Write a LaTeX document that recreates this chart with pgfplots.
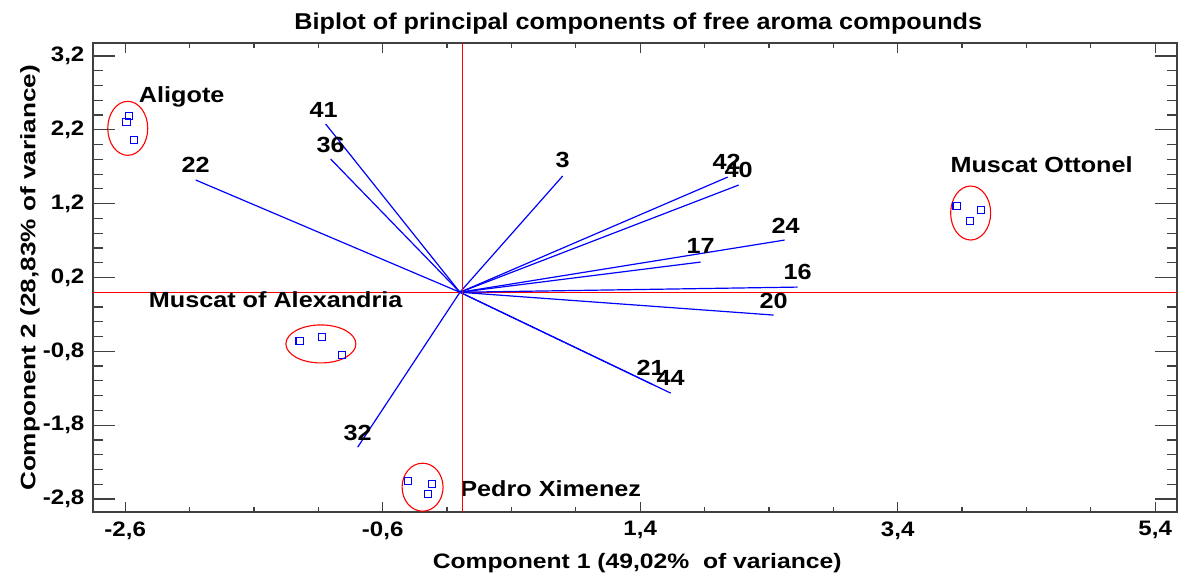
\documentclass[border=0pt]{standalone}
\usepackage{fontspec}
\setmainfont{Liberation Sans}
\usepackage{pgfplots}
\pgfplotsset{compat=1.18}
\definecolor{axgray}{RGB}{64,64,64}
\definecolor{refred}{RGB}{255,0,0}
\begin{document}
\begin{tikzpicture}[x=1bp,y=1bp]
\begin{axis}[
  at={(0,0)}, anchor=south west,
  scale only axis, width=1084bp, height=469bp,
  xmin=-2.85, xmax=5.57, ymin=-2.976, ymax=3.376,
  xtick={-2.6,-0.6,1.4,3.4,5.4},
  xticklabels={{-2,6},{-0,6},{1,4},{3,4},{5,4}},
  minor x tick num=3,
  ytick={-2.6,-2.4,-2.2,-2.0,-1.6,-1.4,-1.2,-1.0,-0.6,-0.4,-0.2,0.0,0.4,0.6,0.8,1.0,1.4,1.6,1.8,2.0,2.4,2.6,2.8,3.0},
  yticklabels={\empty},
  extra y ticks={-2.8,-1.8,-0.8,0.2,1.2,2.2,3.2},
  extra y tick labels={{-2,8},{-1,8},{-0,8},{0,2},{1,2},{2,2},{3,2}},
  extra y tick style={major tick length=22bp},
  tick align=inside,
  major tick length=10bp, minor tick length=5bp,
  tick style={axgray, line width=1.2bp},
  axis line style={axgray, line width=1.5bp},
  ticklabel style={font=\fontsize{21}{25}\selectfont\bfseries, xscale=1.15},
  xticklabel style={yshift=-6bp},
  yticklabel style={xshift=-4bp},
  title={Biplot of principal components of free aroma compounds},
  title style={at={(axis description cs:0.503,1.028)}, anchor=center, yshift=0pt, font=\fontsize{23}{27}\selectfont\bfseries, xscale=1.1},
  xlabel={Component 1 (49,02\%~ of variance)},
  xlabel style={at={(axis description cs:0.502,-0.1087)}, anchor=center, font=\fontsize{21}{25}\selectfont\bfseries, xscale=1.18},
  ylabel={Component 2 (28,83\% of variance)},
  ylabel style={at={(axis description cs:-0.0581,0.499)}, anchor=center, font=\fontsize{21}{25}\selectfont\bfseries, xscale=1.25},
]
% reference line (horizontal)
\addplot[refred, line width=1.3bp, forget plot] coordinates {(-2.85,0) (5.57,0)};
% loading vectors
\addplot[blue, line width=1.2bp] coordinates {(0,0) (-2.052,1.520)};
\addplot[blue, line width=1.2bp] coordinates {(0,0) (-1.043,2.279)};
\addplot[blue, line width=1.2bp] coordinates {(0,0) (-1.004,1.804)};
\addplot[blue, line width=1.2bp] coordinates {(0,0) (0.798,1.574)};
\addplot[blue, line width=1.2bp] coordinates {(0,0) (2.080,1.560)};
\addplot[blue, line width=1.2bp] coordinates {(0,0) (2.165,1.452)};
\addplot[blue, line width=1.2bp] coordinates {(0,0) (2.522,0.707)};
\addplot[blue, line width=1.2bp] coordinates {(0,0) (1.870,0.409)};
\addplot[blue, line width=1.2bp] coordinates {(0,0) (2.623,0.070)};
\addplot[blue, line width=1.2bp] coordinates {(0,0) (2.437,-0.309)};
\addplot[blue, line width=1.2bp] coordinates {(0,0) (1.637,-1.366)};
\addplot[blue, line width=1.2bp] coordinates {(0,0) (1.500,-1.252)};
\addplot[blue, line width=1.2bp] coordinates {(0,0) (-0.794,-2.098)};
% observations
\addplot[only marks, mark=square, blue, mark size=3.6bp, line width=1.1bp] coordinates {
 (-2.573,2.39) (-2.59,2.31) (-2.53,2.06)
 (-1.245,-0.66) (-1.074,-0.61) (-0.918,-0.85)
 (3.858,1.167) (4.045,1.113) (3.96,0.964)
 (-0.406,-2.559) (-0.219,-2.60) (-0.25,-2.735)};
% ellipses
\draw[refred, line width=1.1bp] (axis cs:-2.58,2.22) ellipse [x radius=20bp, y radius=27bp];
\draw[refred, line width=1.1bp] (axis cs:-1.08,-0.70) ellipse [x radius=35bp, y radius=19bp];
\draw[refred, line width=1.1bp] (axis cs:3.967,1.073) ellipse [x radius=20bp, y radius=27bp];
\draw[refred, line width=1.1bp] (axis cs:-0.29,-2.64) ellipse [x radius=20.5bp, y radius=24bp];
% labels
\begin{scope}[every node/.style={font=\fontsize{22}{26}\selectfont\bfseries, inner sep=0pt, xscale=1.15}]
\node at (axis cs:-2.161,2.644) {Aligote};
\node at (axis cs:-2.052,1.723) {22};
\node at (axis cs:-1.058,2.468) {41};
\node at (axis cs:-1.004,1.994) {36};
\node at (axis cs:0.798,1.791) {3};
\node at (axis cs:2.072,1.764) {42};
\node at (axis cs:2.165,1.655) {40};
\node at (axis cs:2.530,0.897) {24};
\node at (axis cs:1.870,0.626) {17};
\node at (axis cs:2.623,0.273) {16};
\node at (axis cs:2.437,-0.120) {20};
\node at (axis cs:1.482,-1.028) {21};
\node at (axis cs:1.637,-1.163) {44};
\node at (axis cs:-0.794,-1.908) {32};
\node at (axis cs:4.518,1.723) {Muscat Ottonel};
\node at (axis cs:-1.431,-0.106) {Muscat of Alexandria};
\node at (axis cs:0.705,-2.654) {Pedro Ximenez};
\end{scope}
% reference line (vertical), drawn last
\draw[refred, line width=1.4bp] (axis cs:0.02,-2.976) -- (axis cs:0.02,3.376);
\end{axis}
\pgfresetboundingbox
\useasboundingbox (-93,-62) rectangle (1085,512);
\end{tikzpicture}
\end{document}
